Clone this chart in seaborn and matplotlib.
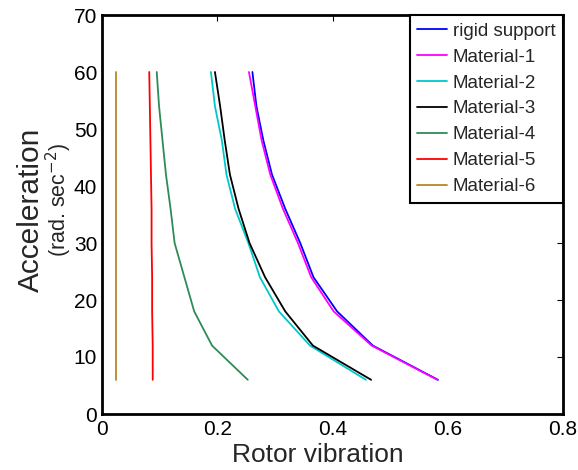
import pandas as pd
import matplotlib.pyplot as plt
import seaborn as sns

# Acceleration levels (y) and rotor vibration for each support (x)
accel = [6, 12, 18, 24, 30, 36, 42, 48, 54, 60]
rigid = [0.583, 0.470, 0.408, 0.367, 0.344, 0.318, 0.295, 0.280, 0.268, 0.261]
mat1 = [0.582, 0.468, 0.402, 0.363, 0.340, 0.314, 0.292, 0.277, 0.266, 0.255]
mat2 = [0.458, 0.361, 0.307, 0.274, 0.254, 0.231, 0.216, 0.208, 0.196, 0.189]
mat3 = [0.467, 0.366, 0.318, 0.283, 0.256, 0.237, 0.222, 0.213, 0.205, 0.196]
mat4 = [0.253, 0.191, 0.160, 0.143, 0.126, 0.119, 0.111, 0.105, 0.099, 0.095]
mat5 = [0.088, 0.088, 0.087, 0.087, 0.086, 0.086, 0.085, 0.084, 0.083, 0.082]
mat6 = [0.025, 0.025, 0.025, 0.025, 0.025, 0.025, 0.025, 0.025, 0.025, 0.025]

names = ['rigid support', 'Material-1', 'Material-2', 'Material-3',
         'Material-4', 'Material-5', 'Material-6']
colors = ['#0000FF', '#FF00FF', '#00C8C8', '#000000',
          '#2E8B57', '#FF0000', '#B8862B']

rows = []
for name, vals in zip(names, [rigid, mat1, mat2, mat3, mat4, mat5, mat6]):
    for a, v in zip(accel, vals):
        rows.append({'support': name, 'vibration': v, 'accel': a})
df = pd.DataFrame(rows)

sns.set_style('white')
plt.rcParams['font.family'] = ['Liberation Sans', 'DejaVu Sans']

fig = plt.figure(figsize=(5.78, 4.70), dpi=100)
ax = fig.add_axes([102 / 578, 1 - 414 / 470, 461 / 578, 399 / 470])

sns.lineplot(data=df, x='vibration', y='accel', hue='support',
             hue_order=names, palette=colors, sort=False,
             estimator=None, linewidth=1.3, ax=ax)

ax.set_xlim(0, 0.8)
ax.set_ylim(0, 70)
ax.set_xticks([0, 0.2, 0.4, 0.6, 0.8])
ax.set_xticklabels(['0', '0.2', '0.4', '0.6', '0.8'])
ax.set_yticks(range(0, 71, 10))
ax.tick_params(direction='in', length=4, width=0.8, labelsize=15,
               top=True, right=True, colors='black')
ax.tick_params(axis='x', pad=4)
for s in ax.spines.values():
    s.set_color('black')
    s.set_linewidth(2)

# axis titles placed as plain text
ax.set_xlabel('')
ax.set_ylabel('')
ax.text(0.469, -0.103, 'Rotor vibration', transform=ax.transAxes,
        ha='center', va='center', fontsize=19)
ax.text(-0.155, 0.511, 'Acceleration', transform=ax.transAxes,
        rotation=90, ha='center', va='center', fontsize=21.5)
ax.text(-0.093, 0.536, '(rad. sec$^{-2}$)', transform=ax.transAxes,
        rotation=90, ha='center', va='center', fontsize=15.5)

leg = ax.legend(loc='upper right', fontsize=13.5, frameon=True,
                fancybox=False, borderaxespad=0, handlelength=1.6,
                handletextpad=0.3, labelspacing=0.47, borderpad=0.4)
leg.get_frame().set_edgecolor('black')
leg.get_frame().set_linewidth(1.5)
leg.get_frame().set_alpha(1)

plt.savefig('out.png', dpi=100)
